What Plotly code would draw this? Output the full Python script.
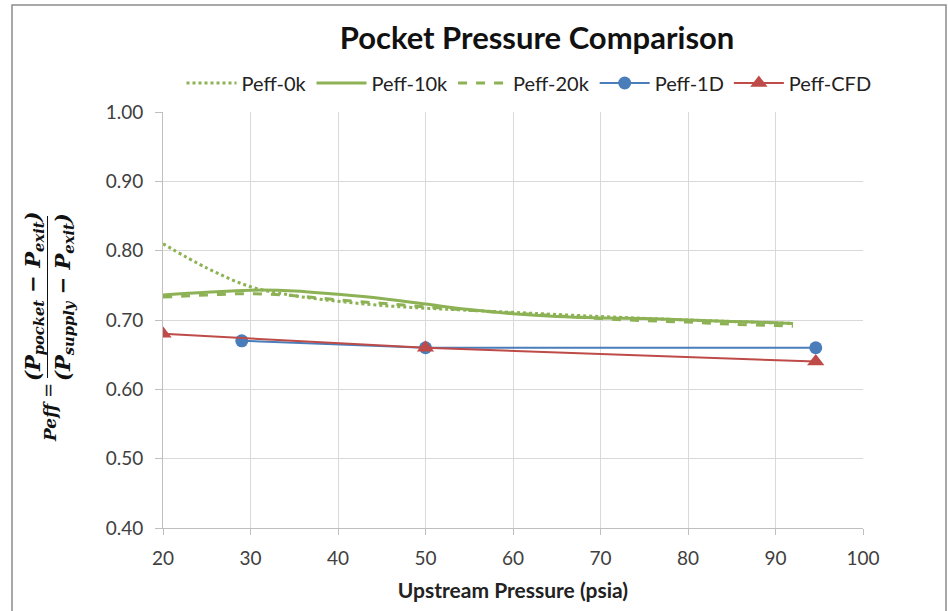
import plotly.graph_objects as go

# ---- data ----
x_0k = [20, 25, 30, 35, 40, 45, 50, 55, 60, 70, 80, 92]
y_0k = [0.810, 0.775, 0.748, 0.735, 0.727, 0.721, 0.717, 0.714, 0.711, 0.705, 0.700, 0.695]

x_10k = [20, 25, 30, 35, 40, 45, 50, 55, 60, 65, 70, 75, 80, 85, 90, 92]
y_10k = [0.736, 0.740, 0.743, 0.742, 0.737, 0.731, 0.723, 0.715, 0.709, 0.705, 0.703, 0.702, 0.700, 0.698, 0.696, 0.695]

x_20k = [20, 25, 30, 35, 40, 45, 50, 55, 60, 65, 70, 75, 80, 85, 90, 92]
y_20k = [0.733, 0.736, 0.738, 0.735, 0.729, 0.724, 0.719, 0.714, 0.710, 0.706, 0.702, 0.699, 0.697, 0.694, 0.692, 0.691]

x_1d = [29, 50, 94.6]
y_1d = [0.670, 0.660, 0.660]

x_cfd = [20, 50, 94.6]
y_cfd = [0.680, 0.660, 0.640]

x_ticks = [20, 30, 40, 50, 60, 70, 80, 90, 100]
y_ticks = [0.40, 0.50, 0.60, 0.70, 0.80, 0.90, 1.00]

GREEN = "#8DB255"
BLUE = "#4A7EBB"
RED = "#BE4B48"
FONT = "Lato"

fig = go.Figure()
fig.add_trace(go.Scatter(x=x_0k, y=y_0k, name="Peff-0k", mode="lines",
                         line=dict(color=GREEN, width=3, dash="dot", shape="spline")))
fig.add_trace(go.Scatter(x=x_10k, y=y_10k, name="Peff-10k", mode="lines",
                         line=dict(color=GREEN, width=3, shape="spline")))
fig.add_trace(go.Scatter(x=x_20k, y=y_20k, name="Peff-20k", mode="lines",
                         line=dict(color=GREEN, width=3, dash="dash", shape="spline")))
fig.add_trace(go.Scatter(x=x_1d, y=y_1d, name="Peff-1D", mode="lines+markers",
                         line=dict(color=BLUE, width=2),
                         marker=dict(symbol="circle", size=13, color=BLUE)))
fig.add_trace(go.Scatter(x=x_cfd, y=y_cfd, name="Peff-CFD", mode="lines+markers",
                         line=dict(color=RED, width=2),
                         marker=dict(symbol="triangle-up", size=15, color=RED)))

L, R, T, B = 163, 863, 112, 528
W, H = 948, 611
pw, ph = R - L, B - T


def px(xp):
    return (xp - L) / pw


def py(yp):
    return (B - yp) / ph


fig.update_layout(
    width=W, height=H,
    margin=dict(l=L, r=W - R, t=T, b=H - B, autoexpand=False),
    paper_bgcolor="white", plot_bgcolor="white",
    font=dict(family=FONT, color="#404040", size=19),
    title=dict(text="<b>Pocket Pressure Comparison</b>", x=px(537), xref="paper",
               xanchor="center", y=1 - 38 / H, yanchor="middle",
               font=dict(family=FONT, size=31, color="#111111")),
    legend=dict(orientation="h", x=px(529), xanchor="center", y=py(83), yanchor="middle",
                font=dict(family=FONT, size=20, color="#222222"), itemwidth=50,
                bgcolor="rgba(0,0,0,0)"),
    showlegend=True,
)
fig.update_xaxes(range=[20, 100], tickvals=x_ticks, ticktext=[str(v) for v in x_ticks],
                 showgrid=True, gridcolor="#D9D9D9", gridwidth=1,
                 showline=True, linecolor="#BFBFBF", linewidth=1,
                 ticks="outside", ticklen=6, tickcolor="#BFBFBF", ticklabelstandoff=7,
                 tickfont=dict(size=19, color="#404040"), zeroline=False,
                 title=dict(text="<b>Upstream Pressure (psia)</b>", font=dict(size=21, color="#222222"),
                            standoff=15))
fig.update_yaxes(range=[0.40, 1.00], tickvals=y_ticks, ticktext=[f"{v:.2f}" for v in y_ticks],
                 showgrid=True, gridcolor="#D9D9D9", gridwidth=1,
                 showline=True, linecolor="#BFBFBF", linewidth=1,
                 ticks="outside", ticklen=7, tickcolor="#BFBFBF", ticklabelstandoff=8,
                 tickfont=dict(size=19, color="#404040"), zeroline=False)

SERIF = "DejaVu Serif"
fml = dict(family=SERIF, size=21, color="#111111")
fig.add_annotation(text="<b><i>(P<sub>pocket</sub> − P<sub>exit</sub>)</i></b>",
                   x=px(33), y=py(297), xref="paper", yref="paper", showarrow=False,
                   textangle=-90, font=fml, xanchor="center", yanchor="middle")
fig.add_annotation(text="<b><i>(P<sub>supply</sub> − P<sub>exit</sub>)</i></b>",
                   x=px(63), y=py(297), xref="paper", yref="paper", showarrow=False,
                   textangle=-90, font=fml, xanchor="center", yanchor="middle")
fig.add_annotation(text="=", x=px(48), y=py(391), xref="paper", yref="paper", showarrow=False,
                   textangle=-90, font=dict(family=SERIF, size=18, color="#111111"),
                   xanchor="center", yanchor="middle")
fig.add_annotation(text="<b><i>Peff</i></b>", x=px(50), y=py(422), xref="paper", yref="paper",
                   showarrow=False, textangle=-90,
                   font=dict(family=SERIF, size=17, color="#111111"),
                   xanchor="center", yanchor="middle")
fig.add_shape(type="line", xref="paper", yref="paper", x0=px(47.5), x1=px(47.5),
              y0=py(216), y1=py(378), line=dict(color="#111111", width=1))

# outer chart frame
fig.add_shape(type="rect", xref="paper", yref="paper", x0=px(12), x1=px(946),
              y0=py(640), y1=py(5), line=dict(color="#8C8C8C", width=1.5),
              fillcolor="rgba(0,0,0,0)", layer="below")

fig.write_html("out.html", config={"displayModeBar": False},
               post_script="document.body.style.margin='0';document.body.style.overflow='hidden';")
